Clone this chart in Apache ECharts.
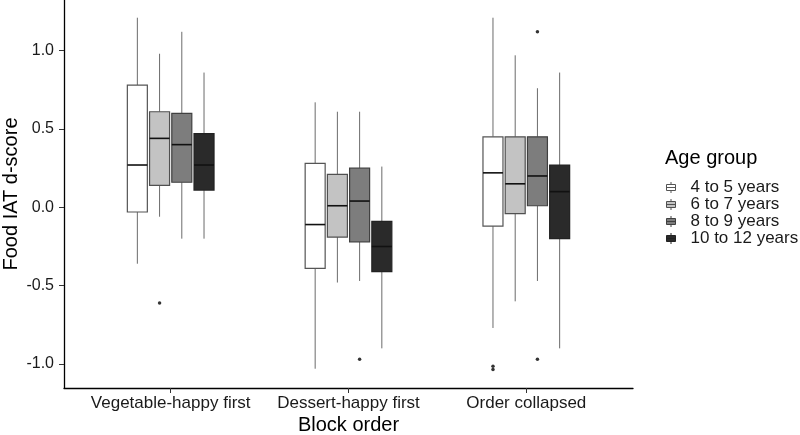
<!DOCTYPE html>
<html>
<head>
<meta charset="utf-8">
<script src="https://cdn.jsdelivr.net/npm/echarts@6/dist/echarts.min.js"></script>
<style>
  html, body { margin: 0; padding: 0; background: #fff; }
  #main { width: 800px; height: 435px; }
</style>
</head>
<body>
<div id="main"></div>
<script>
// categories on the x axis
const blockOrders = ['Vegetable-happy first', 'Dessert-happy first', 'Order collapsed'];
const ageGroups = ['4 to 5 years', '6 to 7 years', '8 to 9 years', '10 to 12 years'];
const yTicks = [-1.0, -0.5, 0.0, 0.5, 1.0];

// box stats per age group: [min, q1, median, q3, max] for each block order
const age4to5 = [
  [-0.36, -0.03, 0.27, 0.78, 1.21],
  [-1.03, -0.39, -0.11, 0.28, 0.67],
  [-0.77, -0.12, 0.22, 0.45, 1.21]
];
const age6to7 = [
  [-0.06, 0.14, 0.44, 0.61, 0.98],
  [-0.48, -0.19, 0.01, 0.21, 0.61],
  [-0.60, -0.04, 0.15, 0.45, 0.97]
];
const age8to9 = [
  [-0.20, 0.16, 0.40, 0.60, 1.12],
  [-0.47, -0.22, 0.04, 0.25, 0.61],
  [-0.47, 0.01, 0.20, 0.45, 0.76]
];
const age10to12 = [
  [-0.20, 0.11, 0.27, 0.47, 0.86],
  [-0.90, -0.41, -0.25, -0.09, 0.26],
  [-0.90, -0.20, 0.10, 0.27, 0.86]
];

// outliers: [block order index, value]
const out4to5 = [[2, -1.015], [2, -1.035]];
const out6to7 = [[0, -0.61]];
const out8to9 = [[1, -0.97], [2, 1.12], [2, -0.97]];
const out10to12 = [];

const fills = ['#ffffff', '#c3c3c3', '#7d7d7d', '#2a2a2a'];
const borders = ['#555555', '#505050', '#404040', '#222222'];
const dodge = 0.125;     // distance between neighbouring boxes (x units)
const boxWidth = 0.1125; // width of one box (x units)

const statsList = [age4to5, age6to7, age8to9, age10to12];
const outList = [out4to5, out6to7, out8to9, out10to12];

const font = 'Liberation Sans, Arial, sans-serif';
// little boxplot glyph for the legend
const legendIcon = 'path://M4.5,0L4.5,2.5M0,2.5L9,2.5L9,8.5L0,8.5ZM0,5.5L9,5.5M4.5,8.5L4.5,11';

function makeBoxSeries(name, stats, idx) {
  const offset = (idx - 1.5) * dodge;
  return {
    name: name,
    type: 'custom',
    itemStyle: { color: fills[idx], borderColor: borders[idx], borderWidth: 1 },
    encode: { x: 0, y: [1, 2, 3, 4, 5] },
    data: stats.map(function (s, i) { return [i + 1].concat(s); }),
    z: 2,
    renderItem: function (params, api) {
      const x = api.value(0) + offset;
      const half = api.size([boxWidth, 0])[0] / 2;
      const pMin = api.coord([x, api.value(1)]);
      const pQ1 = api.coord([x, api.value(2)]);
      const pMed = api.coord([x, api.value(3)]);
      const pQ3 = api.coord([x, api.value(4)]);
      const pMax = api.coord([x, api.value(5)]);
      const whisker = { stroke: '#6b6b6b', lineWidth: 1 };
      return {
        type: 'group',
        children: [
          { type: 'line', shape: { x1: pMax[0], y1: pMax[1], x2: pQ3[0], y2: pQ3[1] }, style: whisker },
          { type: 'line', shape: { x1: pQ1[0], y1: pQ1[1], x2: pMin[0], y2: pMin[1] }, style: whisker },
          {
            type: 'rect',
            shape: { x: pQ3[0] - half, y: pQ3[1], width: half * 2, height: pQ1[1] - pQ3[1] },
            style: { fill: fills[idx], stroke: borders[idx], lineWidth: 1.2 }
          },
          {
            type: 'line',
            shape: { x1: pMed[0] - half, y1: pMed[1], x2: pMed[0] + half, y2: pMed[1] },
            style: { stroke: '#111111', lineWidth: 1.6 }
          }
        ]
      };
    }
  };
}

function makeOutlierSeries(name, outs, idx) {
  const offset = (idx - 1.5) * dodge;
  return {
    name: name,
    type: 'scatter',
    symbol: 'circle',
    symbolSize: 3.5,
    itemStyle: { color: '#000000' },
    data: outs.map(function (o) { return [o[0] + 1 + offset, o[1]]; }),
    z: 3,
    silent: true
  };
}

const series = [];
ageGroups.forEach(function (g, i) {
  series.push(makeBoxSeries(g, statsList[i], i));
  series.push(makeOutlierSeries(g + ' outliers', outList[i], i));
});

const chart = echarts.init(document.getElementById('main'), null, { renderer: 'canvas' });
chart.setOption({
  animation: false,
  backgroundColor: '#ffffff',
  textStyle: { fontFamily: font },
  grid: { left: 64, right: 167, top: 0, bottom: 47, containLabel: false, outerBoundsMode: 'none' },
  xAxis: {
    type: 'value',
    min: 0.4,
    max: 3.6,
    name: 'Block order',
    nameLocation: 'middle',
    nameGap: 27,
    nameMoveOverlap: false,
    nameTextStyle: { fontSize: 20, color: '#000', fontFamily: font },
    splitLine: { show: false },
    axisLine: { show: true, onZero: false, lineStyle: { color: '#000', width: 1.3 } },
    axisTick: { show: true, customValues: [1, 2, 3], length: 5, lineStyle: { color: '#333' } },
    axisLabel: {
      customValues: [1, 2, 3],
      fontSize: 17,
      color: '#1a1a1a',
      margin: 7,
      fontFamily: font,
      formatter: function (v) { return blockOrders[Math.round(v) - 1] || ''; }
    }
  },
  yAxis: {
    type: 'value',
    min: -1.153,
    max: 1.323,
    name: 'Food IAT d-score',
    nameLocation: 'middle',
    nameRotate: 90,
    nameGap: 43,
    nameMoveOverlap: false,
    nameTextStyle: { fontSize: 20, color: '#000', fontFamily: font },
    splitLine: { show: false },
    axisLine: { show: true, onZero: false, lineStyle: { color: '#000', width: 1.3 } },
    axisTick: { show: true, customValues: yTicks, length: 5, lineStyle: { color: '#333' } },
    axisLabel: {
      customValues: yTicks,
      fontSize: 16,
      color: '#1a1a1a',
      margin: 10,
      fontFamily: font,
      formatter: function (v) { return v.toFixed(1); }
    }
  },
  legend: {
    data: ageGroups,
    orient: 'vertical',
    left: 666,
    top: 179,
    padding: 0,
    itemWidth: 9,
    itemHeight: 11,
    itemGap: 0,
    icon: legendIcon,
    itemStyle: { borderWidth: 1 },
    textStyle: { fontSize: 17, lineHeight: 16, color: '#1a1a1a', fontFamily: font, padding: [0, 0, 0, 10] },
    selectedMode: false
  },
  graphic: [{
    type: 'text',
    left: 665,
    top: 148,
    style: { text: 'Age group', fontSize: 20, fill: '#000', fontFamily: font }
  }],
  series: series
});
</script>
</body>
</html>
